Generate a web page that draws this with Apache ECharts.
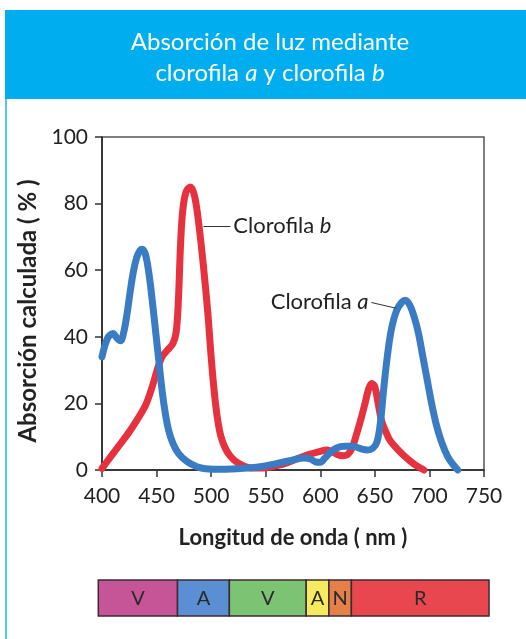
<!DOCTYPE html>
<html>
<head>
<meta charset="utf-8">
<script src="https://cdn.jsdelivr.net/npm/echarts@6/dist/echarts.min.js"></script>
<style>
  html, body { margin: 0; padding: 0; background: #ffffff; }
  #chart { width: 526px; height: 639px; }
</style>
</head>
<body>
<div id="chart"></div>
<script>
// Clorofila a: wavelength (nm) and calculated absorption (%)
const wavelengthA = [400, 405, 410, 414, 417, 420, 423, 426, 429, 432, 435, 437, 440, 443, 446, 449, 452, 455, 458, 461, 465, 470, 478, 487, 495, 510, 530, 545, 555, 565, 575, 585, 591, 596, 600, 604, 609, 615, 622, 630, 637, 643, 648, 652, 655, 658, 661, 665, 670, 675, 678, 682, 686, 690, 694, 698, 702, 706, 710, 714, 718, 722, 726];
const absorptionA = [34, 39.5, 41, 39.5, 38.8, 41.5, 47, 54, 60, 64, 66, 66.3, 64.5, 59, 51, 42, 33, 24, 17, 12, 8, 5, 2.5, 1, 0.4, 0.2, 0.5, 1, 1.6, 2.3, 3, 3.6, 3.3, 2.4, 2.3, 3.5, 5.2, 6.6, 7.1, 7.1, 6.4, 6, 6.5, 8.5, 14, 24, 33, 42, 48, 50.5, 51, 49.5, 46, 41, 34, 27, 20, 14, 9.5, 6, 3.3, 1.5, 0];

// Clorofila b: wavelength (nm) and calculated absorption (%)
const wavelengthB = [400, 408, 416, 424, 432, 440, 446, 451, 455, 460, 465, 468, 470, 472, 474, 477, 481, 485, 489, 493, 497, 500, 503, 506, 509, 513, 518, 525, 535, 548, 560, 570, 580, 590, 600, 606, 611, 616, 621, 625, 629, 633, 637, 641, 644, 647, 650, 653, 656, 660, 664, 670, 676, 682, 688, 695];
const absorptionB = [0.5, 4, 7.5, 11, 15, 19.5, 25, 30.5, 34, 36, 38, 41.5, 51, 68, 78, 83.5, 85, 82, 73, 61, 47, 34, 23, 15, 10, 6.5, 4, 2, 0.7, 0.6, 1.3, 2.2, 3.5, 4.7, 5.6, 6, 5.5, 4.6, 4.3, 4.6, 6.5, 10.5, 15, 20, 24, 26, 25, 20, 15, 11.5, 8.8, 6.5, 4.5, 2.8, 1.3, 0];

// Visible spectrum bands (nm) drawn under the chart
const spectrumLabels = ['V', 'A', 'V', 'A', 'N', 'R'];
const spectrumStart = [396.6, 469.2, 516.7, 587.1, 607.9, 628.5];
const spectrumEnd = [469.2, 516.7, 587.1, 607.9, 628.5, 754.6];
const spectrumColors = ['#c65597', '#5b8ed2', '#7cc474', '#f4ec5e', '#e4804a', '#e9474f'];

// Leader lines of the curve labels, in data coordinates [nm, %]
const leaderB = [[493, 73.3], [517.6, 73.3]];
const leaderA = [[646.8, 50.3], [669.2, 48.6]];

const FONT = 'Lato, "Open Sans", sans-serif';
const pairs = (xs, ys) => xs.map((x, i) => [x, ys[i]]);

const chart = echarts.init(document.getElementById('chart'), null, { renderer: 'canvas' });

const leaderStyle = { color: '#333333', width: 1, type: 'solid' };
const labelRich = {
  i: { fontStyle: 'italic', fontFamily: FONT, fontSize: 22, color: '#222222' }
};

chart.setOption({
  animation: false,
  backgroundColor: '#ffffff',
  graphic: [
    { type: 'rect', z: 0, shape: { x: 5, y: 10, width: 521, height: 89 }, style: { fill: '#00aeef' } },
    { type: 'rect', z: 0, shape: { x: 5, y: 99, width: 2, height: 540 }, style: { fill: '#55c6f0' } }
  ],
  title: {
    z: 10,
    left: 265,
    top: 22,
    textAlign: 'center',
    text: 'Absorción de luz mediante\nclorofila {i|a} y clorofila {i|b}',
    textStyle: {
      color: '#ffffff',
      fontFamily: FONT,
      fontWeight: 'normal',
      fontSize: 24,
      lineHeight: 31,
      rich: {
        i: { color: '#ffffff', fontFamily: FONT, fontStyle: 'italic', fontSize: 24, lineHeight: 31 }
      }
    }
  },
  grid: [
    { left: 102, right: 42, top: 137, bottom: 169, show: true, borderColor: '#555555', borderWidth: 1.5, backgroundColor: '#ffffff' },
    { left: 102, right: 42, top: 580, height: 36 }
  ],
  xAxis: [
    {
      type: 'value', gridIndex: 0, min: 400, max: 750, interval: 50,
      name: 'Longitud de onda ( nm )', nameLocation: 'middle', nameGap: 57,
      nameTextStyle: { fontFamily: FONT, fontWeight: 'bold', fontSize: 22, color: '#222222' },
      axisLine: { lineStyle: { color: '#222222', width: 1.5 } },
      axisTick: { length: 7, lineStyle: { color: '#333333', width: 1.5 } },
      axisLabel: { fontFamily: FONT, fontSize: 21, color: '#222222', margin: 16 },
      splitLine: { show: false }
    },
    { type: 'value', gridIndex: 1, min: 400, max: 750, show: false }
  ],
  yAxis: [
    {
      type: 'value', gridIndex: 0, min: 0, max: 100, interval: 20,
      name: 'Absorción calculada ( % )', nameLocation: 'middle', nameGap: 55,
      nameTextStyle: { fontFamily: FONT, fontWeight: 'bold', fontSize: 24, color: '#222222', padding: [0, 15, 0, 0] },
      axisLine: { show: true, lineStyle: { color: '#222222', width: 1.5 } },
      axisTick: { show: true, length: 7, lineStyle: { color: '#333333', width: 1.5 } },
      axisLabel: { fontFamily: FONT, fontSize: 21, color: '#222222', margin: 14 },
      splitLine: { show: false }
    },
    { type: 'value', gridIndex: 1, min: 0, max: 1, show: false }
  ],
  series: [
    {
      name: 'Clorofila b',
      type: 'line',
      xAxisIndex: 0, yAxisIndex: 0,
      data: pairs(wavelengthB, absorptionB),
      smooth: 0.35,
      showSymbol: false,
      clip: false,
      z: 2,
      lineStyle: { color: '#e5323e', width: 7, cap: 'round', join: 'round' },
      markLine: {
        silent: true,
        symbol: ['none', 'none'],
        lineStyle: leaderStyle,
        label: {
          show: true, position: 'end', distance: 3,
          formatter: 'Clorofila {i|b}',
          fontFamily: FONT, fontSize: 22, color: '#222222', rich: labelRich
        },
        data: [[{ coord: leaderB[0] }, { coord: leaderB[1] }]]
      }
    },
    {
      name: 'Clorofila a',
      type: 'line',
      xAxisIndex: 0, yAxisIndex: 0,
      data: pairs(wavelengthA, absorptionA),
      smooth: 0.35,
      showSymbol: false,
      clip: false,
      z: 3,
      lineStyle: { color: '#3a7cc4', width: 7, cap: 'round', join: 'round' },
      markLine: {
        silent: true,
        symbol: ['none', 'none'],
        lineStyle: leaderStyle,
        label: {
          show: true, position: 'start', distance: 3,
          formatter: 'Clorofila {i|a}',
          fontFamily: FONT, fontSize: 22, color: '#222222', rich: labelRich
        },
        data: [[{ coord: leaderA[0] }, { coord: leaderA[1] }]]
      }
    },
    {
      name: 'Espectro',
      type: 'custom',
      xAxisIndex: 1, yAxisIndex: 1,
      data: spectrumStart.map((s, i) => [s, spectrumEnd[i]]),
      renderItem: function (params, api) {
        const p0 = api.coord([api.value(0), 1]);
        const p1 = api.coord([api.value(1), 0]);
        return {
          type: 'group',
          children: [
            {
              type: 'rect',
              shape: { x: p0[0], y: p0[1], width: p1[0] - p0[0], height: p1[1] - p0[1] },
              style: { fill: spectrumColors[params.dataIndex], stroke: '#3b2b33', lineWidth: 1.5 }
            },
            {
              type: 'text',
              style: {
                text: spectrumLabels[params.dataIndex],
                x: (p0[0] + p1[0]) / 2, y: (p0[1] + p1[1]) / 2 + 1,
                align: 'center', verticalAlign: 'middle',
                font: '20px ' + FONT, fill: '#2a2a2a'
              }
            }
          ]
        };
      }
    }
  ]
});
</script>
</body>
</html>
